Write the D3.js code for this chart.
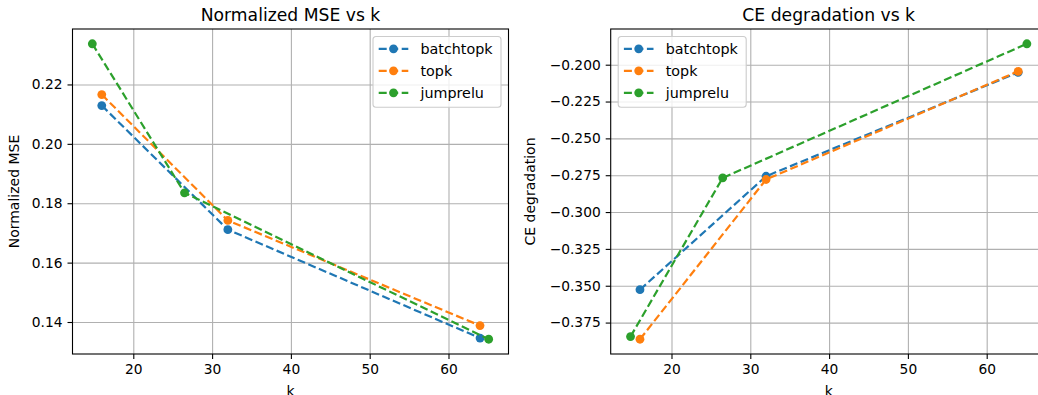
<!DOCTYPE html>
<html>
<head>
<meta charset="utf-8">
<script src="https://cdn.jsdelivr.net/npm/d3@7"></script>
<style>
body { margin: 0; background: #fff; }
text { font-family: "DejaVu Sans", sans-serif; fill: #000; }
</style>
</head>
<body>
<div id="chart"></div>
<script>
// data
var seriesNames = ["batchtopk", "topk", "jumprelu"];
var seriesColors = ["#1f77b4", "#ff7f0e", "#2ca02c"];

var kBatchtopk = [16, 32, 64];
var kTopk = [16, 32, 64];
var kJumprelu = [14.8, 26.5, 65.1];

var mseBatchtopk = [0.2129, 0.1711, 0.1346];
var mseTopk = [0.2166, 0.1742, 0.1388];
var mseJumprelu = [0.2337, 0.1835, 0.1342];

var ceBatchtopk = [-0.3527, -0.2757, -0.2052];
var ceTopk = [-0.3863, -0.2779, -0.2045];
var ceJumprelu = [-0.3845, -0.2768, -0.1858];

var kTicks = [20, 30, 40, 50, 60];
var mseTicks = [0.14, 0.16, 0.18, 0.20, 0.22];
var ceTicks = [-0.375, -0.350, -0.325, -0.300, -0.275, -0.250, -0.225, -0.200];

var svg = d3.select("#chart").append("svg")
    .attr("width", 1038).attr("height", 395)
    .style("display", "block");

svg.append("rect").attr("width", 1038).attr("height", 395).attr("fill", "#fff");

function padded(vals)
{
    var ext = d3.extent(vals);
    var m = (ext[1] - ext[0]) * 0.05;
    return [ext[0] - m, ext[1] + m];
}

function drawPanel(p)
{
    var g = svg.append("g").attr("transform", "translate(" + p.left + "," + p.top + ")");
    var w = p.width, h = p.height;

    var allK = [], allY = [];
    p.series.forEach(function(s){ allK = allK.concat(s.k); allY = allY.concat(s.y); });

    var x = d3.scaleLinear().domain(padded(allK)).range([0, w]);
    var y = d3.scaleLinear().domain(padded(allY)).range([h, 0]);

    // grid
    g.append("g").attr("class", "grid")
        .attr("transform", "translate(0," + h + ")")
        .call(d3.axisBottom(x).tickValues(kTicks).tickSize(-h).tickFormat(""));
    g.append("g").attr("class", "grid")
        .call(d3.axisLeft(y).tickValues(p.yTicks).tickSize(-w).tickFormat(""));
    g.selectAll(".grid .domain").remove();
    g.selectAll(".grid line").attr("stroke", "#b0b0b0").attr("stroke-width", 1.1);

    // series
    var line = d3.line()
        .x(function(d){ return x(d[0]); })
        .y(function(d){ return y(d[1]); });

    p.series.forEach(function(s, i){
        var pts = s.k.map(function(k, j){ return [k, s.y[j]]; });
        g.append("path")
            .attr("d", line(pts))
            .attr("fill", "none")
            .attr("stroke", seriesColors[i])
            .attr("stroke-width", 2.2)
            .attr("stroke-dasharray", "8,3.5");
        g.selectAll(".pt" + i)
            .data(pts)
            .enter()
            .append("circle")
            .attr("cx", function(d){ return x(d[0]); })
            .attr("cy", function(d){ return y(d[1]); })
            .attr("r", 4.4)
            .attr("fill", seriesColors[i]);
    });

    // axes
    var xAxis = g.append("g")
        .attr("transform", "translate(0," + h + ")")
        .call(d3.axisBottom(x).tickValues(kTicks).tickSize(5).tickPadding(5));
    var yAxis = g.append("g")
        .call(d3.axisLeft(y).tickValues(p.yTicks).tickSize(5).tickPadding(5).tickFormat(p.fmt));
    [xAxis, yAxis].forEach(function(a){
        a.select(".domain").remove();
        a.selectAll("line").attr("stroke", "#000").attr("stroke-width", 1.1);
        a.selectAll("text").attr("font-size", 13.8).attr("fill", "#000")
            .style("font-family", "'DejaVu Sans', sans-serif");
    });

    // spines
    g.append("rect")
        .attr("width", w).attr("height", h)
        .attr("fill", "none").attr("stroke", "#000").attr("stroke-width", 1.1);

    // labels
    g.append("text")
        .text(p.title)
        .attr("x", w / 2).attr("y", -8.5)
        .attr("text-anchor", "middle")
        .attr("font-size", 17.2);
    g.append("text")
        .text("k")
        .attr("x", w / 2).attr("y", h + 42)
        .attr("text-anchor", "middle")
        .attr("font-size", 14);
    g.append("text")
        .text(p.ylabel)
        .attr("transform", "translate(" + p.ylabelX + "," + (h / 2) + ") rotate(-90)")
        .attr("text-anchor", "middle")
        .attr("font-size", 14);

    // legend
    var lg = g.append("g").attr("transform", "translate(" + p.legendX + ",7.5)");
    lg.append("rect")
        .attr("width", 128).attr("height", 70.8)
        .attr("rx", 3)
        .attr("fill", "#fff").attr("fill-opacity", 0.8)
        .attr("stroke", "#cccccc").attr("stroke-width", 1.1);

    var rows = lg.selectAll(".row")
        .data(seriesNames)
        .enter()
        .append("g")
        .attr("transform", function(d, i){ return "translate(0," + (12.3 + i * 22) + ")"; });
    rows.append("line")
        .attr("x1", 5.7).attr("x2", 35.3)
        .attr("stroke", function(d, i){ return seriesColors[i]; })
        .attr("stroke-width", 2.2)
        .attr("stroke-dasharray", "8,3.5");
    rows.append("circle")
        .attr("cx", 20.5).attr("r", 4.4)
        .attr("fill", function(d, i){ return seriesColors[i]; });
    rows.append("text")
        .text(function(d){ return d; })
        .attr("x", 47.5).attr("y", 5)
        .attr("font-size", 14.3);
}

drawPanel({
    left: 72.5, top: 29, width: 436, height: 325,
    title: "Normalized MSE vs k",
    ylabel: "Normalized MSE", ylabelX: -54,
    yTicks: mseTicks, fmt: d3.format(".2f"),
    legendX: 436 - 7.5 - 128,
    series: [
        {k: kBatchtopk, y: mseBatchtopk},
        {k: kTopk, y: mseTopk},
        {k: kJumprelu, y: mseJumprelu}
    ]
});

drawPanel({
    left: 610.7, top: 29, width: 436, height: 325,
    title: "CE degradation vs k",
    ylabel: "CE degradation", ylabelX: -76,
    yTicks: ceTicks, fmt: d3.format(".3f"),
    legendX: 7.5,
    series: [
        {k: kBatchtopk, y: ceBatchtopk},
        {k: kTopk, y: ceTopk},
        {k: kJumprelu, y: ceJumprelu}
    ]
});
</script>
</body>
</html>
